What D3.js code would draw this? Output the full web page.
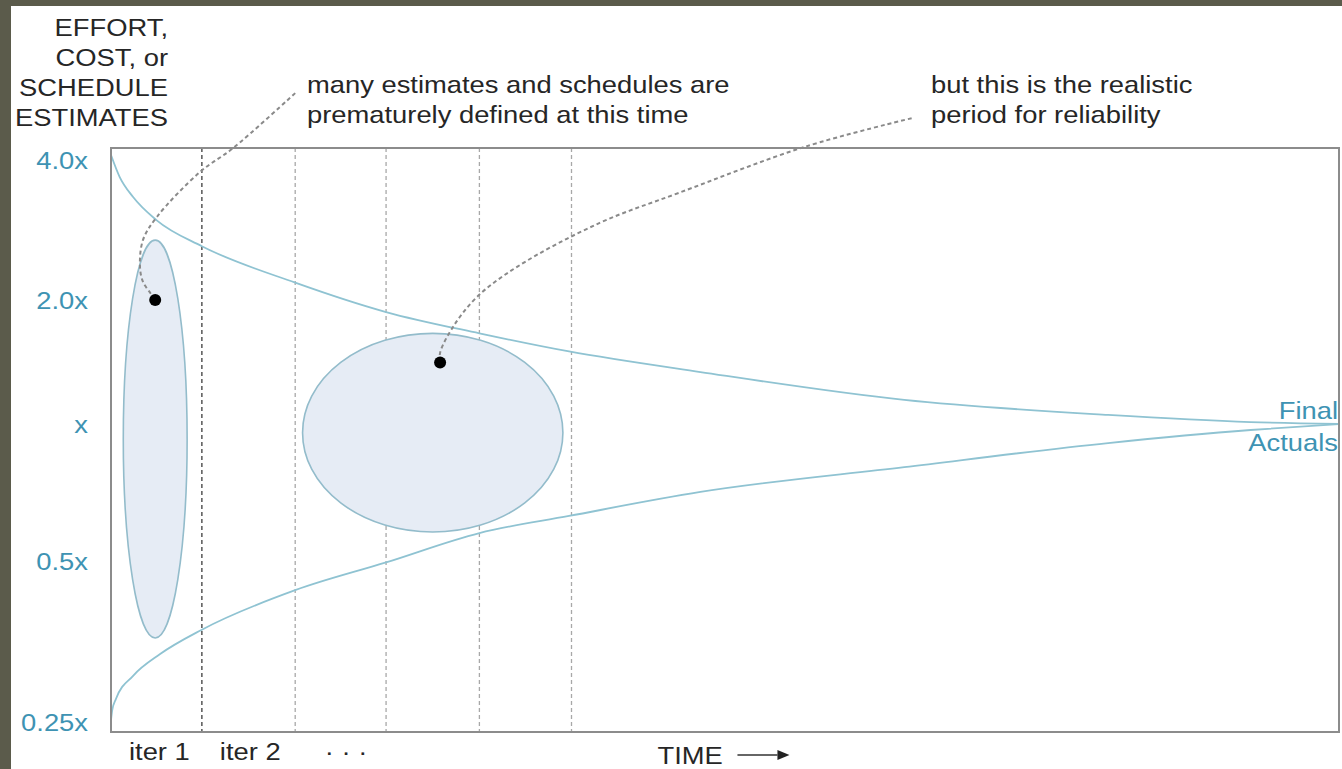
<!DOCTYPE html>
<html>
<head>
<meta charset="utf-8">
<script src="https://cdn.jsdelivr.net/npm/d3@7"></script>
<style>
  html, body { margin: 0; padding: 0; background: #5b5b4b; }
  svg { display: block; }
  text { font-family: "Liberation Sans", Arial, sans-serif; font-size: 24px; }
</style>
</head>
<body>
<svg id="chart" width="1342" height="769"></svg>
<script>
// ---------- data ----------
const yTitleLines = ["EFFORT,", "COST, or", "SCHEDULE", "ESTIMATES"];
const yTickValues = [4, 2, 1, 0.5, 0.25];
const yTickLabels = ["4.0x", "2.0x", "x", "0.5x", "0.25x"];

// time axis: 0..100 (fraction of project time)
const iterBoundaries = [7.4, 15.0, 22.4, 30.0, 37.5];
const xTickPositions = [3.9, 11.3, 19.1];
const xTickLabels = ["iter 1", "iter 2", "\u00B7 \u00B7 \u00B7"];
const timeLabel = "TIME";
const timeLabelPos = 44.5;

// upper bound of estimate (multiplier of final actuals)
const upperT = [0, 0.7, 1.8, 3.7, 7.4, 15.0, 22.4, 30.0, 37.3, 48.0, 64.6, 81.2, 92.8, 100];
const upperV = [4.1, 3.68, 3.33, 2.97, 2.61, 2.18, 1.87, 1.66, 1.50, 1.337, 1.144, 1.052, 1.011, 1.0];
// lower bound
const lowerT = [0, 0.1, 0.4, 1.8, 4.0, 7.4, 15.0, 22.4, 30.0, 37.3, 48.0, 64.6, 81.2, 92.8, 100];
const lowerV = [0.252, 0.263, 0.276, 0.305, 0.335, 0.372, 0.441, 0.497, 0.576, 0.628, 0.709, 0.804, 0.908, 0.970, 1.0];

// estimate ranges (ellipses): time centre, time half-width, top value, bottom value
const rangeNames   = ["early", "realistic"];
const rangeTCenter = [3.6, 26.2];
const rangeTHalf   = [2.6, 10.6];
const rangeVTop    = [2.69, 1.66];
const rangeVBottom = [0.359, 0.579];

// sample estimates (dots)
const dotT = [3.6, 26.8];
const dotV = [2.0, 1.41];

// annotation leaders (time, value)
const leader1T = [15.0, 9.93, 7.25, 3.75, 2.6, 2.36, 2.6, 3.2, 3.6];
const leader1V = [5.57, 4.24, 3.77, 3.02, 2.69, 2.36, 2.19, 2.07, 2.0];
const leader2T = [65.2, 56.5, 46.25, 39.8, 33.1, 29.8, 27.85, 26.8, 26.8];
const leader2V = [4.92, 4.27, 3.40, 2.93, 2.36, 2.03, 1.72, 1.49, 1.41];

const note1 = ["many estimates and schedules are", "prematurely defined at this time"];
const note2 = ["but this is the realistic", "period for reliability"];
const endLabel = ["Final", "Actuals"];

// ---------- layout ----------
const W = 1342, H = 769;
const plot = { left: 111, right: 1339, top: 148, bottom: 732 };
const SX = 1.14; // horizontal stretch of the lettering
const teal = "#3e93b3";
const ink = "#262626";

const svg = d3.select("#chart");
svg.append("rect").attr("x", 0).attr("y", 0).attr("width", W).attr("height", H).attr("fill", "#5b5b4b");
svg.append("rect").attr("x", 11).attr("y", 6).attr("width", W - 11).attr("height", H - 6).attr("fill", "#ffffff");

const x = d3.scaleLinear().domain([0, 100]).range([plot.left, plot.right]);
const yLog = d3.scaleLinear().domain([-2, -1, 0, 1, 2]).range([722, 561, 424, 300, 160]);
const y = v => yLog(Math.log2(v));

function txt(px, py, s, anchor, color) {
  return svg.append("text")
    .attr("transform", `translate(${px},${py}) scale(${SX},1)`)
    .attr("text-anchor", anchor)
    .attr("dy", "0.35em")
    .attr("fill", color)
    .text(s);
}

// dashed iteration boundaries
svg.append("g").selectAll("line").data(iterBoundaries).join("line")
  .attr("x1", d => x(d)).attr("x2", d => x(d))
  .attr("y1", plot.top).attr("y2", plot.bottom)
  .attr("stroke", (d, i) => i === 0 ? "#4a4a4a" : "#a8a8a8")
  .attr("stroke-width", (d, i) => i === 0 ? 1.4 : 1.3)
  .attr("stroke-dasharray", "4,3");

// ellipses
svg.append("g").selectAll("ellipse").data(rangeNames).join("ellipse")
  .attr("cx", (d, i) => x(rangeTCenter[i]))
  .attr("cy", (d, i) => (y(rangeVTop[i]) + y(rangeVBottom[i])) / 2)
  .attr("rx", (d, i) => x(rangeTCenter[i] + rangeTHalf[i]) - x(rangeTCenter[i]))
  .attr("ry", (d, i) => (y(rangeVBottom[i]) - y(rangeVTop[i])) / 2)
  .attr("fill", "#e6ecf5")
  .attr("stroke", "#93bccb")
  .attr("stroke-width", 1.6);

// cone of uncertainty
const line = d3.line().x(d => x(d[0])).y(d => y(d[1])).curve(d3.curveMonotoneX);
svg.append("path").datum(d3.zip(upperT, upperV)).attr("d", line)
  .attr("fill", "none").attr("stroke", "#8fc3d2").attr("stroke-width", 1.8);
svg.append("path").datum(d3.zip(lowerT, lowerV)).attr("d", line)
  .attr("fill", "none").attr("stroke", "#8fc3d2").attr("stroke-width", 1.8);

// frame
svg.append("rect")
  .attr("x", plot.left).attr("y", plot.top)
  .attr("width", plot.right - plot.left).attr("height", plot.bottom - plot.top)
  .attr("fill", "none").attr("stroke", "#8c8c8c").attr("stroke-width", 2);

// leaders
const leaderLine = d3.line().x(d => x(d[0])).y(d => y(d[1])).curve(d3.curveCatmullRom.alpha(0.5));
[[leader1T, leader1V], [leader2T, leader2V]].forEach(([T, V]) => {
  svg.append("path").datum(d3.zip(T, V)).attr("d", leaderLine)
    .attr("fill", "none").attr("stroke", "#8a8a8a").attr("stroke-width", 2)
    .attr("stroke-dasharray", "4,3");
});

// dots
svg.append("g").selectAll("circle").data(dotT).join("circle")
  .attr("cx", d => x(d)).attr("cy", (d, i) => y(dotV[i])).attr("r", 6)
  .attr("fill", "#000");

// y axis
const yAxis = d3.axisLeft(yLog)
  .tickValues(yTickValues.map(v => Math.log2(v)))
  .tickFormat((d, i) => yTickLabels[i])
  .tickSize(0).tickPadding(0);
const gy = svg.append("g").attr("transform", `translate(${plot.left},0)`).call(yAxis);
gy.select(".domain").remove();
gy.selectAll("text")
  .attr("x", -23 / SX).attr("dy", "0.35em")
  .attr("transform", `scale(${SX},1)`)
  .attr("fill", teal)
  .style("font-size", "24px").style("font-family", "'Liberation Sans', Arial, sans-serif");

// x axis
const xAxis = d3.axisBottom(x)
  .tickValues(xTickPositions)
  .tickFormat((d, i) => xTickLabels[i])
  .tickSize(0).tickPadding(0);
const gx = svg.append("g").attr("transform", `translate(0,${plot.bottom})`).call(xAxis);
gx.select(".domain").remove();
gx.selectAll("text")
  .attr("y", 20).attr("dy", "0.35em")
  .attr("transform", `scale(${SX},1)`)
  .attr("fill", ink)
  .style("font-size", "24px").style("font-family", "'Liberation Sans', Arial, sans-serif");

// TIME label + arrow
txt(x(timeLabelPos), plot.bottom + 24, timeLabel, "start", ink);
const ax0 = x(timeLabelPos) + 80, ay = plot.bottom + 23;
svg.append("line").attr("x1", ax0).attr("x2", ax0 + 40).attr("y1", ay).attr("y2", ay)
  .attr("stroke", "#333").attr("stroke-width", 1.6);
svg.append("path").attr("d", `M${ax0 + 40},${ay - 5} L${ax0 + 52},${ay} L${ax0 + 40},${ay + 5} Z`).attr("fill", "#222");

// y title
yTitleLines.forEach((s, i) => txt(168, 28 + i * 30, s, "end", ink));

// notes
note1.forEach((s, i) => txt(307, 85 + i * 30, s, "start", ink));
note2.forEach((s, i) => txt(931, 85 + i * 30, s, "start", ink));

// end label
endLabel.forEach((s, i) => txt(1338, 411 + i * 32, s, "end", teal));
</script>
</body>
</html>
